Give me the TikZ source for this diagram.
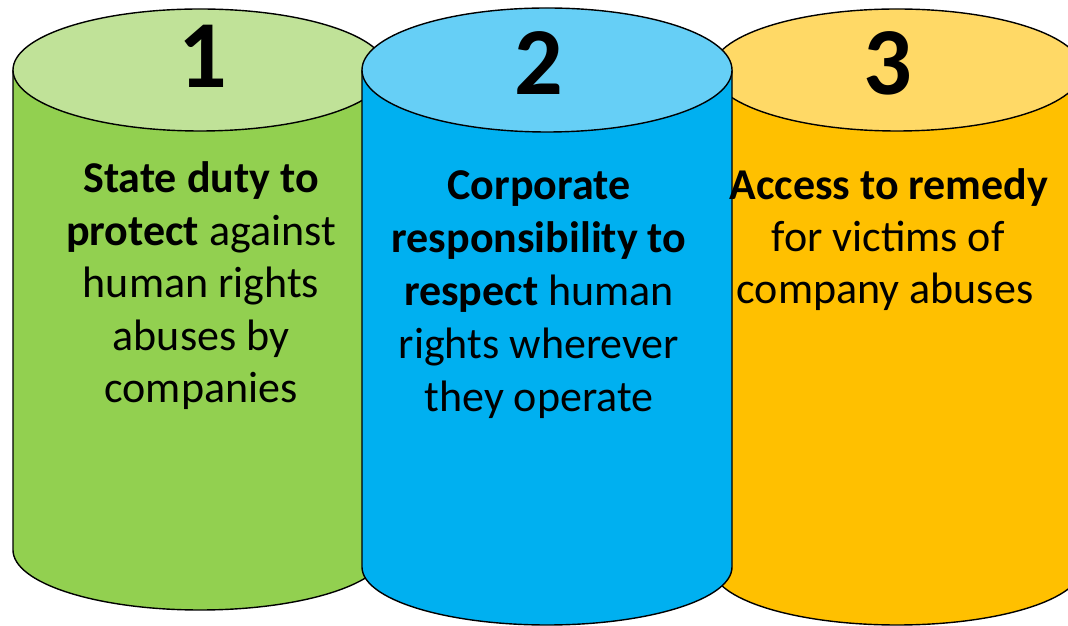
\documentclass[tikz,border=0pt]{standalone}
\usepackage{fontspec}
\setmainfont{Carlito}
\definecolor{grnSide}{HTML}{92D050}
\definecolor{grnTop}{HTML}{C0E298}
\definecolor{bluSide}{HTML}{00B0F0}
\definecolor{bluTop}{HTML}{66CFF6}
\definecolor{orgSide}{HTML}{FFC000}
\definecolor{orgTop}{HTML}{FFD966}
\begin{document}
\begin{tikzpicture}[x=1pt, y=1pt, line width=1.4pt, line join=round,
  pillar/.style={draw=black},
  ln/.style={anchor=base, inner sep=0pt, font=\fontsize{44}{52}\selectfont},
  num/.style={anchor=base, inner sep=0pt, font=\fontsize{96}{96}\selectfont\bfseries}]
\useasboundingbox (0,0) rectangle (1068,626);
\clip (0,0) rectangle (1068,626);

% pillar 1 (green)
\filldraw[pillar, fill=grnSide] (13,556) -- (13,76)
  arc[start angle=180, end angle=360, x radius=187, y radius=60] -- (387,556) -- cycle;
\filldraw[pillar, fill=grnTop] (200,556) ellipse[x radius=187, y radius=61];

% pillar 3 (orange)
\filldraw[pillar, fill=orgSide] (712,556) -- (712,59)
  arc[start angle=180, end angle=360, x radius=185, y radius=58] -- (1082,556) -- cycle;
\filldraw[pillar, fill=orgTop] (897,556) ellipse[x radius=185, y radius=61];

% pillar 2 (blue), in front
\filldraw[pillar, fill=bluSide] (362,556) -- (362,59)
  arc[start angle=180, end angle=360, x radius=185, y radius=58] -- (732,556) -- cycle;
\filldraw[pillar, fill=bluTop] (547,556) ellipse[x radius=185, y radius=62];

% numbers
\node[num] (n1) at (203,538) {1};
\node[num] (n2) at (539,531) {2};
\node[num] (n3) at (888,531) {3};

% pillar 1 text
\node[ln] (a1) at (201,433) {\textbf{State duty to}};
\node[ln] (a2) at (201,380.5) {\textbf{protect} against};
\node[ln] (a3) at (201,328) {human rights};
\node[ln] (a4) at (201,275.5) {abuses by};
\node[ln] (a5) at (201,223) {companies};

% pillar 2 text
\node[ln] (b1) at (539,426) {\textbf{Corporate}};
\node[ln] (b2) at (539,373) {\textbf{responsibility to}};
\node[ln] (b3) at (539,320) {\textbf{respect} human};
\node[ln] (b4) at (539,267) {rights wherever};
\node[ln] (b5) at (539,214) {they operate};

% pillar 3 text
\node[ln] (c1) at (889,426) {\textbf{Access to remedy}};
\node[ln] (c2) at (888,374) {for victims of};
\node[ln] (c3) at (885,322) {company abuses};
\end{tikzpicture}
\end{document}
